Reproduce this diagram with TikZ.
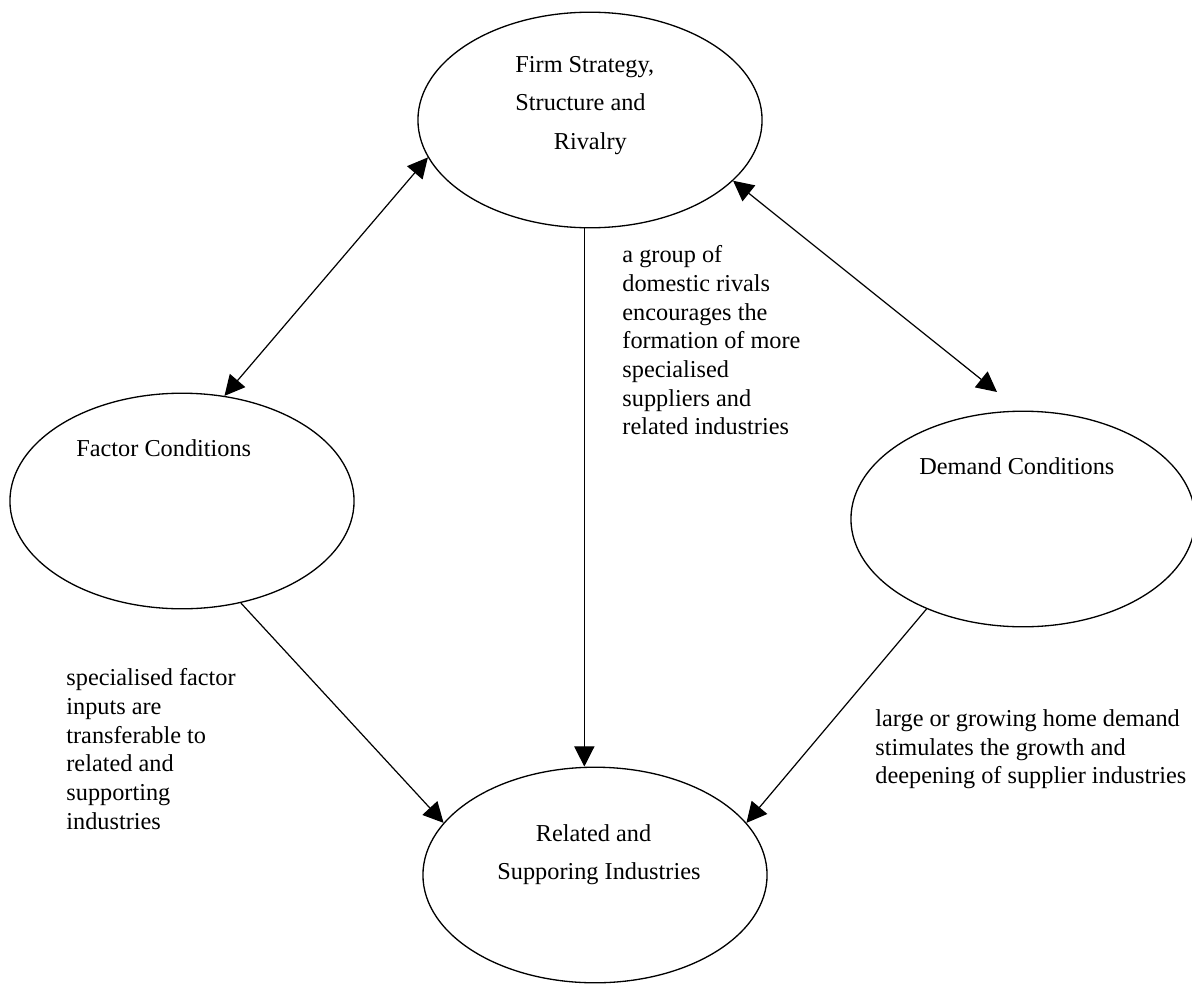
\documentclass[tikz,border=0pt]{standalone}
\usepackage{fontspec}
\setmainfont{Liberation Serif}
\usetikzlibrary{shapes.geometric, arrows.meta}

\begin{document}
\begin{tikzpicture}
      [x=0.494pt,y=-0.494pt
      ,ell/.style={ellipse,draw,line width=.65pt,inner sep=0,minimum width=170pt,minimum height=106.5pt}
      ,txt/.style={inner sep=0,align=left,font=\fontsize{12}{19}\selectfont}
      ,note/.style={inner sep=0,align=left,anchor=north west,font=\fontsize{12}{14.2}\selectfont}
      ,lin/.style={line width=.6pt}
      ,arr/.style={lin,-{Triangle[length=10pt,width=10pt]}}
      ,darr/.style={lin,{Triangle[length=10pt,width=10pt]}-{Triangle[length=10pt,width=10pt]}}]
        \useasboundingbox (0,0) rectangle (1192,983);
        % the four corners
        \node[ell] (firm)    at (590,120) {};
        \node[ell] (factor)  at (182,501) {};
        \node[ell] (demand)  at (1023,519) {};
        \node[ell] (related) at (595,875) {};
        \node[txt,anchor=north west] (firmtxt) at (515,56)
             {Firm Strategy,\\Structure and\\\hspace*{19pt}Rivalry};
        \node[txt,anchor=base west] (factortxt) at (76,456) {Factor Conditions};
        \node[txt,anchor=base west] (demandtxt) at (919,474) {Demand Conditions};
        \node[txt,anchor=north west] (relatedtxt) at (497,824)
             {\hspace*{19pt}Related and\\Supporing Industries};
        % notes beside the arrows
        \node[note] (rivalnote) at (622,245)
             {a group of\\domestic rivals\\encourages the\\formation of more\\specialised\\suppliers and\\related industries};
        \node[note] (factornote) at (66,668)
             {specialised factor\\inputs are\\transferable to\\related and\\supporting\\industries};
        \node[note] (demandnote) at (875,709)
             {large or growing home demand\\stimulates the growth and\\deepening of supplier industries};
        % arrows
        \coordinate (demandtip) at (997,392);
        \draw[darr] (firm.193) -- (factor.68);
        \draw[darr] (firm.337) -- (demandtip);
        \draw[arr] (firm.267) -- (firm.267 |- related.north);
        \draw[arr] (factor.300) -- (related.161);
        \draw[arr] (demand.223) -- (related.19);
      \end{tikzpicture}
\end{document}
